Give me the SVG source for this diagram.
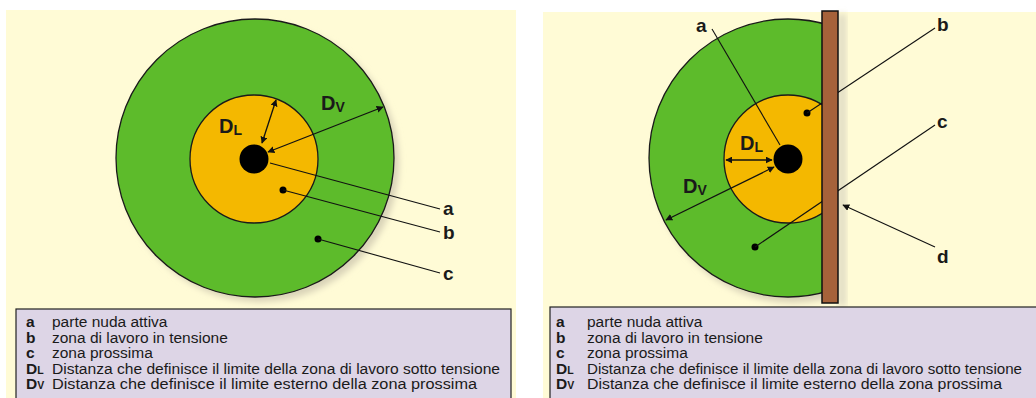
<svg xmlns="http://www.w3.org/2000/svg" width="1036" height="398" viewBox="0 0 1036 398">
<style>
.panel{fill:#fffbd6}
.outer{fill:#5dbb2b;stroke:#1a1a1a;stroke-width:1.3}
.inner{fill:#f4b800;stroke:#1a1a1a;stroke-width:1.3}
.ln{stroke:#111;stroke-width:1.1;fill:none}
.arr{stroke:#111;stroke-width:1.3;fill:none;marker-start:url(#ah);marker-end:url(#ah)}
.lbl{font-family:"Liberation Sans",Arial,sans-serif;font-size:19px;font-weight:bold;fill:#1a1a1a}
.dim{font-family:"Liberation Sans",Arial,sans-serif;font-size:20px;font-weight:bold;fill:#1a1a1a}
.sub{font-size:14px}
.leg{fill:#ddd5e6;stroke:#222;stroke-width:1.2}
.lt{font-family:"Liberation Sans",Arial,sans-serif;font-size:15.5px;fill:#1a1a1a}
.lk{font-weight:bold}
.shadow{fill:#d9d3b8;filter:url(#blur)}
</style>
<defs>
<marker id="ah" viewBox="0 0 10 10" refX="9" refY="5" markerWidth="7" markerHeight="7" markerUnits="userSpaceOnUse" orient="auto-start-reverse">
<path d="M0,0 L10,5 L0,10 z" fill="#111"/>
</marker>
<filter id="blur" x="-20%" y="-20%" width="140%" height="140%"><feGaussianBlur stdDeviation="3"/></filter>
<clipPath id="cr"><rect x="600" y="0" width="230" height="398"/></clipPath>
</defs>
<rect x="0" y="0" width="1036" height="398" fill="#ffffff"/>

<g id="left-panel">
<rect class="panel" x="6" y="10" width="510" height="388"/>
<circle class="shadow" cx="260" cy="163" r="139"/>
</g>
<g id="left-outer-zone"><circle class="outer" cx="255" cy="158" r="139"/></g>
<g id="left-inner-zone"><circle class="inner" cx="254" cy="159" r="64"/></g>
<g id="left-live-part"><circle cx="254" cy="159" r="14.5" fill="#000"/></g>
<g id="left-dots">
<circle cx="283" cy="190" r="3.5" fill="#000"/>
<circle cx="318" cy="239" r="3.5" fill="#000"/>
</g>

<g id="right-panel">
<rect class="panel" x="543" y="12" width="493" height="386"/>
<rect x="838" y="14" width="8" height="292" fill="#e0dcc4" filter="url(#blur)"/>
<circle class="shadow" cx="793" cy="164" r="139" clip-path="url(#cr)"/>
</g>
<g id="right-outer-zone"><circle class="outer" cx="788" cy="158" r="139" clip-path="url(#cr)"/></g>
<g id="right-inner-zone"><circle class="inner" cx="788" cy="159" r="64" clip-path="url(#cr)"/></g>
<g id="right-live-part"><circle cx="788" cy="159" r="14.5" fill="#000"/></g>
<g id="right-dots">
<circle cx="807" cy="113" r="3.5" fill="#000"/>
<circle cx="755" cy="247" r="3.5" fill="#000"/>
</g>

<g id="connectors">
<path class="ln" d="M270,163 L440,209"/>
<path class="ln" d="M283,190 L440,232"/>
<path class="ln" d="M318,239 L440,273"/>
<path class="arr" d="M262,143 L276,100"/>
<path class="arr" d="M268,152 L383,107"/>

<path class="ln" d="M712,29 L780,145"/>
<path class="ln" d="M807,113 L935,28"/>
<path class="ln" d="M755,247 L935,125"/>
<path class="ln" d="M935,247 L843,205" marker-end="url(#ah)"/>
<path class="arr" d="M726,160 L772,160"/>
<path class="arr" d="M774,167 L666,220"/>
</g>

<g id="right-wall">
<rect x="822" y="11" width="16" height="292" fill="#a6623a" stroke="#111" stroke-width="1.5"/>
</g>

<g id="left-labels">
<text class="lbl" x="443" y="215">a</text>
<text class="lbl" x="443" y="239">b</text>
<text class="lbl" x="443" y="280">c</text>
<text class="dim" x="219" y="133">D<tspan class="sub" dy="2">L</tspan></text>
<text class="dim" x="321" y="110">D<tspan class="sub" dy="2">V</tspan></text>
</g>
<g id="right-labels">
<text class="lbl" x="696" y="32">a</text>
<text class="lbl" x="937" y="31">b</text>
<text class="lbl" x="937" y="128">c</text>
<text class="lbl" x="937" y="263">d</text>
<text class="dim" x="740" y="150">D<tspan class="sub" dy="2">L</tspan></text>
<text class="dim" x="683" y="193">D<tspan class="sub" dy="2">V</tspan></text>
</g>

<g id="left-legend">
<rect class="leg" x="16" y="309" width="495" height="100"/>
<text class="lt lk" x="26" y="327">a</text><text class="lt" x="52" y="327">parte nuda attiva</text>
<text class="lt lk" x="26" y="343">b</text><text class="lt" x="52" y="343">zona di lavoro in tensione</text>
<text class="lt lk" x="26" y="358">c</text><text class="lt" x="52" y="358">zona prossima</text>
<text class="lt lk" x="26" y="374">D<tspan font-size="10.5">L</tspan></text><text class="lt" x="52" y="374" textLength="448" lengthAdjust="spacingAndGlyphs">Distanza che definisce il limite della zona di lavoro sotto tensione</text>
<text class="lt lk" x="26" y="389">D<tspan font-size="10.5">V</tspan></text><text class="lt" x="52" y="389" textLength="425" lengthAdjust="spacingAndGlyphs">Distanza che definisce il limite esterno della zona prossima</text>
</g>
<g id="right-legend">
<rect class="leg" x="550" y="307" width="500" height="100"/>
<text class="lt lk" x="556" y="327">a</text><text class="lt" x="587" y="327">parte nuda attiva</text>
<text class="lt lk" x="556" y="343">b</text><text class="lt" x="587" y="343">zona di lavoro in tensione</text>
<text class="lt lk" x="556" y="358">c</text><text class="lt" x="587" y="358">zona prossima</text>
<text class="lt lk" x="556" y="374">D<tspan font-size="10.5">L</tspan></text><text class="lt" x="587" y="374" textLength="435" lengthAdjust="spacingAndGlyphs">Distanza che definisce il limite della zona di lavoro sotto tensione</text>
<text class="lt lk" x="556" y="389">D<tspan font-size="10.5">V</tspan></text><text class="lt" x="587" y="389" textLength="415" lengthAdjust="spacingAndGlyphs">Distanza che definisce il limite esterno della zona prossima</text>
</g>
</svg>
